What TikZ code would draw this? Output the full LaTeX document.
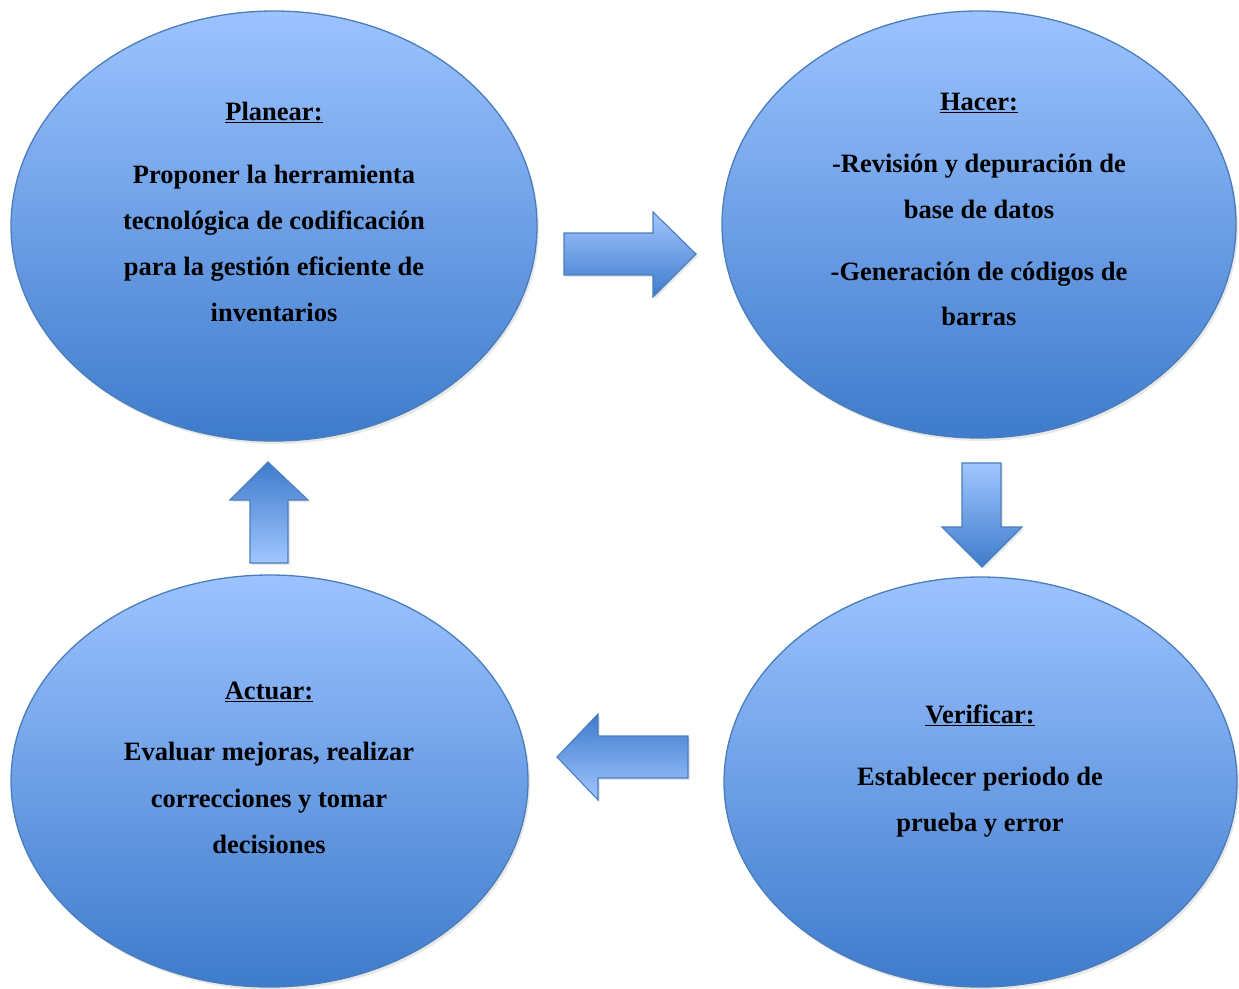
\documentclass[tikz,border=0pt]{standalone}
\usepackage{fontspec}
\setmainfont{Liberation Serif}
\usetikzlibrary{shapes.geometric,shadows}
\definecolor{lightblue}{RGB}{156,195,255}
\definecolor{darkblue}{RGB}{62,123,204}
\definecolor{edgeblue}{RGB}{74,126,187}
\tikzset{
  phase/.style={ellipse,draw=edgeblue,line width=1.3pt,inner sep=0pt,
    top color=lightblue,bottom color=darkblue,
    drop shadow={opacity=0.18,shadow xshift=2pt,shadow yshift=-3pt}},
  blockarrow/.style={draw=edgeblue,line width=1.1pt,line join=miter,
    drop shadow={opacity=0.18,shadow xshift=2pt,shadow yshift=-2pt}},
  lbl/.style={anchor=base,inner sep=0pt,font=\fontsize{26.5}{46}\selectfont\bfseries}
}
\begin{document}
\begin{tikzpicture}[x=1pt,y=-1pt]
\useasboundingbox[fill=white] (0,0) rectangle (1239,988);
% ellipses
\node[phase,minimum width=526pt,minimum height=430pt] (plan) at (274,226) {};
\node[phase,minimum width=514pt,minimum height=427pt] (hacer) at (979,224.5) {};
\node[phase,minimum width=513pt,minimum height=410pt] (verif) at (980.5,782) {};
\node[phase,minimum width=517pt,minimum height=412pt] (actuar) at (269.5,781) {};
% block arrows
\path[blockarrow,top color=lightblue!95,bottom color=darkblue]
  (564,233) -- (653,233) -- (653,212) -- (696,254) -- (653,297) -- (653,275) -- (564,275) -- cycle;
\path[blockarrow,top color=lightblue!95,bottom color=darkblue]
  (962,463) -- (1001,463) -- (1001,527) -- (1022,527) -- (982,567) -- (942,527) -- (962,527) -- cycle;
\path[blockarrow,top color=darkblue,bottom color=lightblue!95]
  (688,736) -- (598,736) -- (598,714) -- (557,757) -- (598,800) -- (598,778) -- (688,778) -- cycle;
\path[blockarrow,top color=darkblue,bottom color=lightblue!95]
  (250,563) -- (250,500) -- (230,500) -- (268,462) -- (308,500) -- (288,500) -- (288,563) -- cycle;
% Planear
\node[lbl] (p0) at (274,120) {\underline{Planear:}};
\node[lbl] (p1) at (274,183) {Proponer la herramienta};
\node[lbl] (p2) at (274,229) {tecnológica de codificación};
\node[lbl] (p3) at (274,275) {para la gestión eficiente de};
\node[lbl] (p4) at (274,321) {inventarios};
% Hacer
\node[lbl] (h0) at (979,110) {\underline{Hacer:}};
\node[lbl] (h1) at (979,172) {-Revisión y depuración de};
\node[lbl] (h2) at (979,218) {base de datos};
\node[lbl] (h3) at (979,280) {-Generación de códigos de};
\node[lbl] (h4) at (979,325) {barras};
% Verificar
\node[lbl] (v0) at (980,723) {\underline{Verificar:}};
\node[lbl] (v1) at (980,785) {Establecer periodo de};
\node[lbl] (v2) at (980,831) {prueba y error};
% Actuar
\node[lbl] (a0) at (269,699) {\underline{Actuar:}};
\node[lbl] (a1) at (269,760) {Evaluar mejoras, realizar};
\node[lbl] (a2) at (269,807) {correcciones y tomar};
\node[lbl] (a3) at (269,853) {decisiones};
\end{tikzpicture}
\end{document}
